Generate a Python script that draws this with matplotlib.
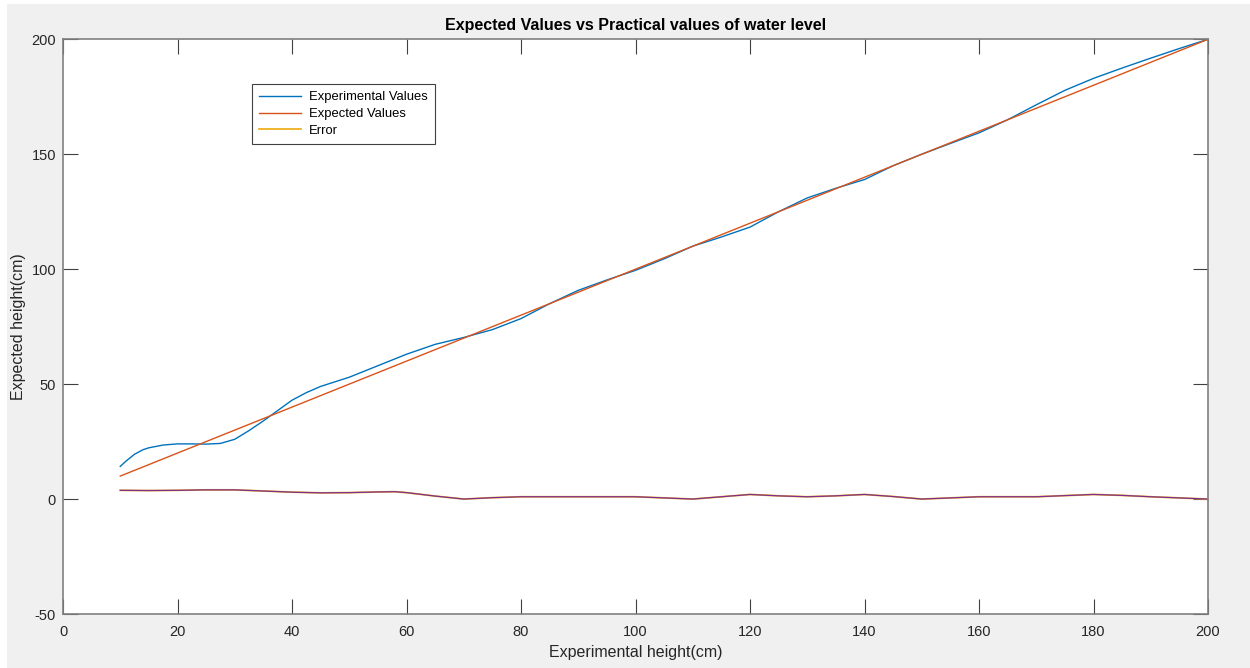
import numpy as np
import matplotlib
matplotlib.use("Agg")
import matplotlib.pyplot as plt
from matplotlib.patches import Rectangle

plt.rcParams['font.family'] = ['Liberation Sans', 'DejaVu Sans']
plt.rcParams['axes.unicode_minus'] = False

# values
exp_x = [10, 11, 12.5, 14, 15, 17.5, 20, 22.5, 25, 27.5, 30, 32.5, 35, 37.5, 40, 42.5, 45,
         50, 55, 60, 65, 70, 75, 80, 85, 90, 95, 100, 105, 110, 115, 120, 125, 130, 135,
         140, 145, 150, 155, 160, 165, 170, 175, 180, 185, 190, 195, 200]
exp_y = [14.2, 16.5, 19.5, 21.5, 22.3, 23.5, 24.0, 24.0, 23.9, 24.2, 26.0, 29.8, 34.0,
         38.5, 43.0, 46.3, 49.0, 53.0, 58.0, 63.0, 67.3, 70.3, 73.7, 78.5, 85.0, 90.8,
         95.3, 99.5, 104.5, 110.0, 114.0, 118.3, 125.0, 131.0, 135.2, 139.0, 145.0,
         150.0, 154.7, 159.3, 165.0, 171.5, 177.8, 183.0, 187.5, 191.8, 196.0, 200.0]

expected_x = [10, 200]
expected_y = [10, 200]

err_x = [10, 15, 20, 25, 30, 35, 40, 45, 50, 55, 58, 60, 65, 70, 75, 80, 90, 100, 105,
         110, 115, 120, 125, 130, 135, 140, 145, 150, 155, 160, 170, 175, 180, 185,
         190, 195, 200]
err_y = [3.8, 3.7, 3.8, 4.0, 4.0, 3.5, 3.0, 2.7, 2.8, 3.1, 3.2, 2.8, 1.3, 0.0, 0.6, 1.0,
         1.0, 1.0, 0.5, 0.0, 1.0, 2.0, 1.4, 1.0, 1.4, 2.0, 1.1, 0.0, 0.5, 1.0, 1.0, 1.5,
         2.0, 1.6, 1.0, 0.5, 0.0]

fig = plt.figure(figsize=(12.5, 6.68), dpi=100, facecolor='white')
fig.patches.append(Rectangle((7 / 1250, 0), 1, 1 - 4 / 668, transform=fig.transFigure,
                             facecolor='#f0f0f0', edgecolor='none', zorder=-10))
ax = fig.add_axes([63 / 1250, 54 / 668, 1145 / 1250, 574.7 / 668])
ax.set_facecolor('white')

ax.plot(exp_x, exp_y, color='#0072BD', lw=1.0, label='Experimental Values')
ax.plot(expected_x, expected_y, color='#D95319', lw=1.0, label='Expected Values')
ax.plot(err_x, err_y, color='#EDB120', lw=1.3, label='Error')
ax.plot(err_x, err_y, color='#7E2F8E', lw=0.9)

ax.set_xlim(0, 200)
ax.set_ylim(-50, 200)
ax.set_xticks(np.arange(0, 201, 20))
ax.set_yticks(np.arange(-50, 201, 50))
ax.tick_params(direction='in', length=11, width=0.8, color='#404040',
               labelsize=10.5, labelcolor='#262626', top=True, right=True)
ax.tick_params(axis='x', pad=8)
ax.tick_params(axis='y', pad=5)
for s in ax.spines.values():
    s.set_color('#808080')
    s.set_linewidth(1.2)

ax.set_title('Expected Values vs Practical values of water level', fontsize=11.5,
             fontweight='bold', color='black', pad=7)
ax.set_xlabel('Experimental height(cm)', fontsize=11.5, color='#262626', labelpad=4)
ax.set_ylabel('Expected height(cm)', fontsize=11.5, color='#262626', labelpad=10)

leg = ax.legend(loc='upper left', bbox_to_anchor=(0.165, 0.922), borderaxespad=0,
                fontsize=9.4, fancybox=False, framealpha=1, edgecolor='#404040',
                handlelength=3.2, handletextpad=0.6, labelspacing=0.35,
                borderpad=0.55)
leg.get_frame().set_linewidth(0.8)
ax.yaxis.set_label_coords(-37 / 1145, 0.5)

fig.savefig('out.png', dpi=100, facecolor=fig.get_facecolor())
